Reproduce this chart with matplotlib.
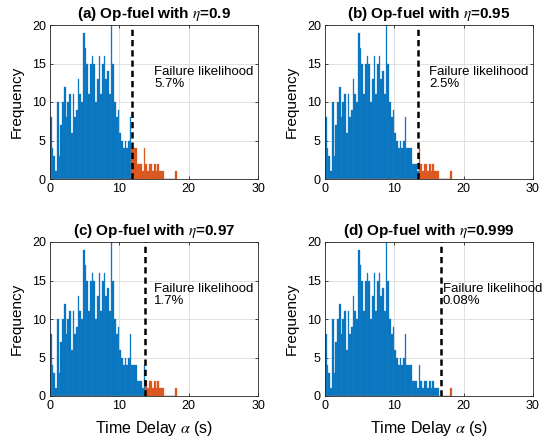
import numpy as np
import matplotlib
matplotlib.use("Agg")
import matplotlib.pyplot as plt

plt.rcParams['font.family'] = ['Liberation Sans', 'DejaVu Sans']
plt.rcParams['mathtext.fontset'] = 'stix'

# histogram of time delays, bin width 0.25 s starting at 0
bin_width = 0.25
counts = [8, 4, 3, 1, 10, 3, 7, 10,           # 0 - 2
          12, 8, 10, 11, 6, 11, 8, 9,         # 2 - 4
          13, 11, 10, 19, 17, 15, 11, 15,     # 4 - 6
          16, 15, 10, 13, 16, 11, 15, 16,     # 6 - 8
          13, 14, 11, 20, 15, 10, 8, 9,       # 8 - 10
          6, 5, 4, 5, 4, 5, 8, 4,             # 10 - 12
          4, 4, 2, 2, 2, 1, 4, 2,             # 12 - 14
          1, 2, 2, 1, 2, 1, 2, 1,             # 14 - 16
          1, 1, 0, 0, 0, 0, 0, 0,             # 16 - 18
          1]                                  # 18 - 18.25

panel_titles = ['(a) Op-fuel with $\\eta$=0.9', '(b) Op-fuel with $\\eta$=0.95',
                '(c) Op-fuel with $\\eta$=0.97', '(d) Op-fuel with $\\eta$=0.999']
thresholds = [11.8, 13.4, 13.7, 16.8]
likelihoods = ['5.7%', '2.5%', '1.7%', '0.08%']
text_x = [15, 15, 15, 17]

blue = '#0072BD'
orange = '#D95319'

counts = np.array(counts)
edges = np.arange(len(counts) + 1) * bin_width
centers = edges[:-1] + bin_width / 2

W, H = 543, 441
fig = plt.figure(figsize=(W / 100, H / 100), dpi=100)
lefts = [50, 325, 50, 325]
tops = [25, 25, 242, 242]
aw, ah = 208, 154

for i in range(4):
    ax = fig.add_axes([lefts[i] / W, (H - tops[i] - ah) / H, aw / W, ah / H])
    t = thresholds[i]
    fail = centers > t
    ax.hist(centers[~fail], bins=edges, weights=counts[~fail], color=blue,
            edgecolor='#2a85c9', linewidth=0.25, zorder=2)
    ax.hist(centers[fail], bins=edges, weights=counts[fail], color=orange,
            edgecolor='#e06a38', linewidth=0.25, zorder=2)
    ax.axvline(t, color='black', linestyle=(0, (2.5, 1.6)), linewidth=1.8, zorder=3)
    ax.text(text_x[i], 13.1, 'Failure likelihood\n' + likelihoods[i], fontsize=9.5,
            va='center', ha='left', linespacing=1.0, clip_on=False)

    ax.set_xlim(0, 30)
    ax.set_ylim(0, 20)
    ax.set_xticks([0, 10, 20, 30])
    ax.set_yticks([0, 5, 10, 15, 20])
    ax.grid(True, color='#dcdcdc', linewidth=0.6, zorder=0)
    ax.set_axisbelow(True)
    ax.tick_params(direction='in', length=2.5, width=0.5, labelsize=9,
                   top=True, right=True, pad=3)
    for s in ax.spines.values():
        s.set_linewidth(0.6)
        s.set_color('#262626')
    ax.set_title(panel_titles[i], fontsize=11, fontweight='bold', pad=5)
    ax.set_ylabel('Frequency', fontsize=11, labelpad=6)
    if i >= 2:
        ax.set_xlabel('Time Delay $\\alpha$ (s)', fontsize=11.5, labelpad=5)

fig.savefig('out.png', dpi=100)
